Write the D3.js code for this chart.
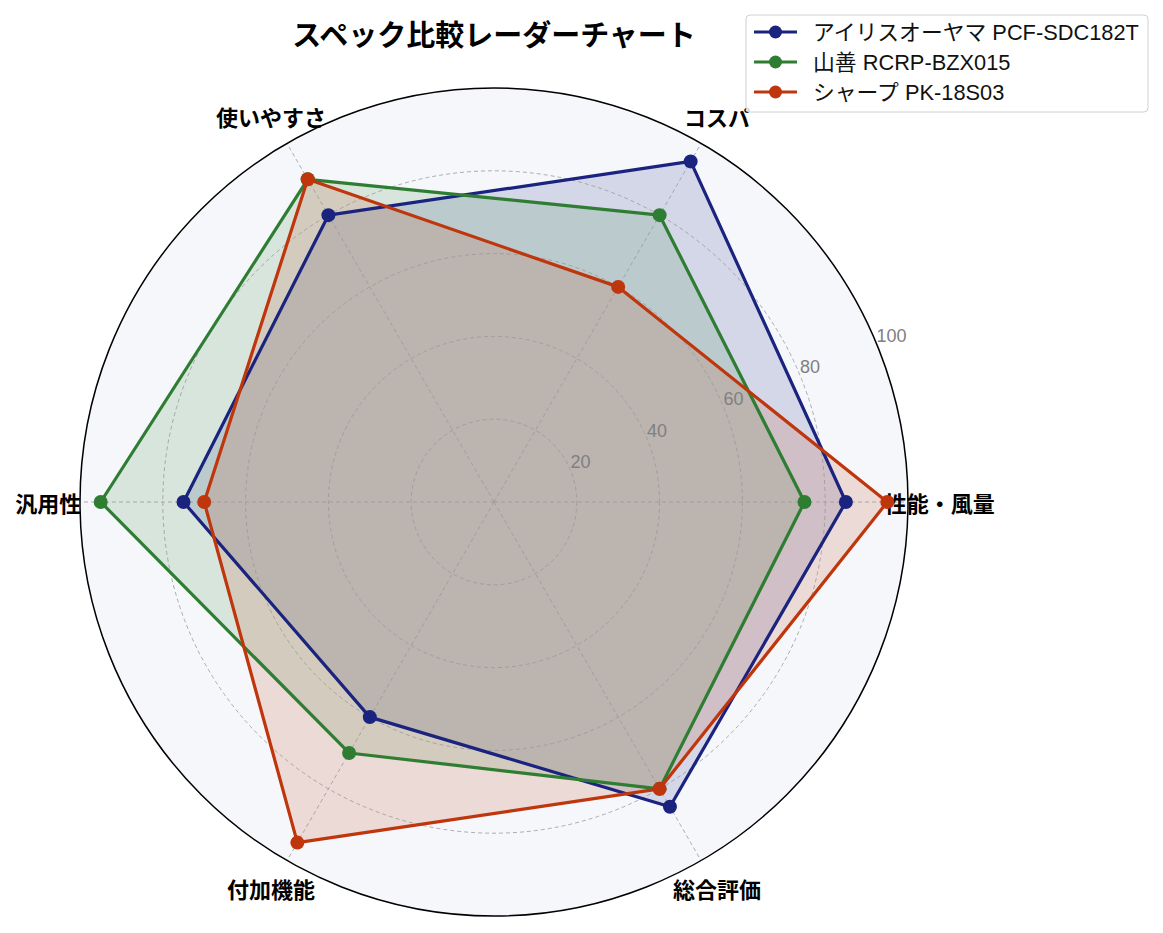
<!DOCTYPE html>
<html>
<head>
<meta charset="utf-8">
<script src="https://cdn.jsdelivr.net/npm/d3@7"></script>
<style>
  body { margin: 0; background: #fff; }
  svg text { font-family: "Liberation Sans", "Noto Sans CJK JP", sans-serif; }
  svg text.cjk { font-family: "Noto Sans CJK JP", "Liberation Sans", sans-serif; }
</style>
</head>
<body>
<div id="chart"></div>
<script>
var W = 1163, H = 933;
var cx = 494, cy = 502, R = 414;

var axes = ['性能・風量', 'コスパ', '使いやすさ', '汎用性', '付加機能', '総合評価'];
var seriesNames = ['アイリスオーヤマ PCF-SDC182T', '山善 RCRP-BZX015', 'シャープ PK-18S03'];
var seriesColors = ['#1a237e', '#2e7d32', '#bf360c'];
var irisValues = [85, 95, 80, 75, 60, 85];
var yamazenValues = [75, 80, 90, 95, 70, 80];
var sharpValues = [95, 60, 90, 70, 95, 80];
var rTicks = [20, 40, 60, 80, 100];

var allValues = [irisValues, yamazenValues, sharpValues];

var svg = d3.select('#chart')
  .append('svg')
    .attr('width', W)
    .attr('height', H);

var g = svg.append('g')
  .attr('transform', `translate(${cx}, ${cy})`);

var rScale = d3.scaleLinear().domain([0, 100]).range([0, R]);

// angle counter-clockwise from the right, one step per axis
var angleScale = d3.scaleLinear().domain([0, axes.length]).range([0, 2 * Math.PI]);

function px(i, v) { return rScale(v) * Math.cos(angleScale(i)); }
function py(i, v) { return -rScale(v) * Math.sin(angleScale(i)); }

// background disc
g.append('circle')
  .attr('r', R)
  .attr('fill', '#f5f7fb');

var line = d3.line()
  .x((d, i) => px(i, d))
  .y((d, i) => py(i, d))
  .curve(d3.curveLinearClosed);

// fills first (below grid)
g.selectAll('.fill')
  .data(allValues)
  .enter()
  .append('path')
    .attr('class', 'fill')
    .attr('d', d => line(d))
    .attr('fill', (d, i) => seriesColors[i])
    .attr('fill-opacity', 0.15);

// dashed grid circles
g.selectAll('.grid')
  .data(rTicks.filter(d => d < 100))
  .enter()
  .append('circle')
    .attr('class', 'grid')
    .attr('r', d => rScale(d))
    .attr('fill', 'none')
    .attr('stroke', '#999')
    .attr('stroke-width', 0.8)
    .attr('stroke-dasharray', '4,3');

// spokes
g.selectAll('.spoke')
  .data(axes)
  .enter()
  .append('line')
    .attr('class', 'spoke')
    .attr('x1', 0).attr('y1', 0)
    .attr('x2', (d, i) => px(i, 100))
    .attr('y2', (d, i) => py(i, 100))
    .attr('stroke', '#999')
    .attr('stroke-width', 0.8)
    .attr('stroke-dasharray', '4,3');

// outer frame
g.append('circle')
  .attr('r', R)
  .attr('fill', 'none')
  .attr('stroke', '#000')
  .attr('stroke-width', 1.5);

// radial tick labels at 22.5 degrees
var tickAng = 22.5 * Math.PI / 180;
g.selectAll('.rtick')
  .data(rTicks)
  .enter()
  .append('text')
    .attr('class', 'rtick')
    .attr('x', d => rScale(d) * Math.cos(tickAng))
    .attr('y', d => -rScale(d) * Math.sin(tickAng) - 2)
    .attr('fill', '#808080')
    .attr('font-size', 18)
    .text(d => d);

// axis labels
g.selectAll('.alabel')
  .data(axes)
  .enter()
  .append('text')
    .attr('class', 'alabel cjk')
    .attr('x', (d, i) => px(i, 107.7))
    .attr('y', (d, i) => py(i, 107.7))
    .attr('text-anchor', 'middle')
    .attr('dominant-baseline', 'central')
    .attr('font-size', 22)
    .attr('font-weight', 'bold')
    .attr('fill', '#000')
    .text(d => d);

// lines and markers on top
var series = g.selectAll('.series')
  .data(allValues)
  .enter()
  .append('g')
    .attr('class', 'series');

series.append('path')
  .attr('d', d => line(d))
  .attr('fill', 'none')
  .attr('stroke', (d, i) => seriesColors[i])
  .attr('stroke-width', 3.2)
  .attr('stroke-linejoin', 'round');

series.each(function (vals, s) {
  d3.select(this).selectAll('circle')
    .data(vals)
    .enter()
    .append('circle')
      .attr('cx', (d, i) => px(i, d))
      .attr('cy', (d, i) => py(i, d))
      .attr('r', 7)
      .attr('fill', seriesColors[s]);
});

// title
svg.append('text')
  .attr('class', 'cjk')
  .attr('x', 494)
  .attr('y', 46)
  .attr('text-anchor', 'middle')
  .attr('font-size', 29)
  .attr('font-weight', 'bold')
  .text('スペック比較レーダーチャート');

// legend
var legend = svg.append('g')
  .attr('transform', 'translate(746, 15)');

legend.append('rect')
  .attr('width', 402)
  .attr('height', 97)
  .attr('rx', 4)
  .attr('fill', '#fff')
  .attr('fill-opacity', 0.8)
  .attr('stroke', '#d0d0d0')
  .attr('stroke-width', 1);

var items = legend.selectAll('.item')
  .data(seriesNames)
  .enter()
  .append('g')
    .attr('class', 'item')
    .attr('transform', (d, i) => `translate(0, ${17 + i * 30})`);

items.append('line')
  .attr('x1', 8).attr('x2', 51)
  .attr('stroke', (d, i) => seriesColors[i])
  .attr('stroke-width', 3.2);

items.append('circle')
  .attr('cx', 29.5)
  .attr('r', 6.5)
  .attr('fill', (d, i) => seriesColors[i]);

items.append('text')
  .attr('x', 67)
  .attr('dominant-baseline', 'central')
  .attr('font-size', 21.8)
  .attr('fill', '#111')
  .text(d => d);
</script>
</body>
</html>
